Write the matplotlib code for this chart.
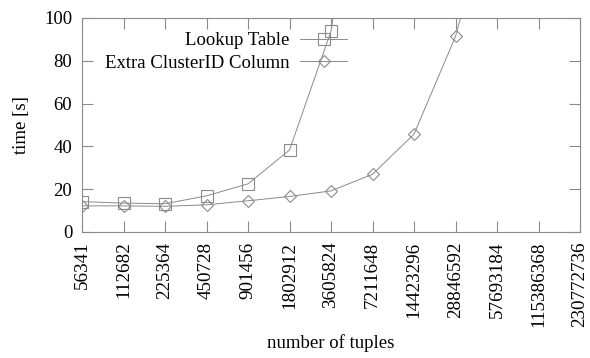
import matplotlib
matplotlib.use("Agg")
import matplotlib.pyplot as plt

tuples = ["56341", "112682", "225364", "450728", "901456", "1802912", "3605824",
          "7211648", "14423296", "28846592", "57693184", "115386368", "230772736"]
lookup_table = [14.2, 13.5, 13.2, 16.9, 22.5, 38.3, 93.8, 220]
extra_cluster = [12.2, 12.2, 12.0, 12.7, 14.6, 16.6, 19.2, 27.0, 45.7, 91.4, 163]

plt.rcParams['font.family'] = ['Liberation Serif', 'DejaVu Serif']
fs = 13.5

fig = plt.figure(figsize=(5.9, 3.58), dpi=100)
ax = fig.add_axes([82/590, 1 - 232/358, (580 - 82)/590, (232 - 18)/358])

gray = '#8a8a8a'
ax.plot(range(len(lookup_table)), lookup_table, color=gray, lw=0.7,
        marker='s', markersize=9, markerfacecolor='none', markeredgecolor=gray,
        markeredgewidth=0.8, label='Lookup Table')
ax.plot(range(len(extra_cluster)), extra_cluster, color=gray, lw=0.7,
        marker='D', markersize=6.5, markerfacecolor='none', markeredgecolor=gray,
        markeredgewidth=0.8, label='Extra ClusterID Column')

ax.set_xlim(0, len(tuples) - 1)
ax.set_ylim(0, 100)
ax.set_xticks(range(len(tuples)))
ax.set_xticklabels(tuples, rotation=90, fontsize=13.8)
ax.set_yticks([0, 20, 40, 60, 80, 100])
ax.set_yticklabels(['0', '20', '40', '60', '80', '100'], fontsize=fs)
ax.tick_params(direction='in', length=8, width=0.8, color=gray, top=True, right=True,
               pad=7)
for s in ax.spines.values():
    s.set_color(gray)
    s.set_linewidth(0.8)

ax.set_ylabel('time [s]', fontsize=fs, labelpad=10)
ax.set_xlabel('number of tuples', fontsize=fs, labelpad=5)

leg = ax.legend(loc='upper right', bbox_to_anchor=(347/590, 1 - 32/358),
                bbox_transform=fig.transFigure, frameon=False, markerfirst=False,
                fontsize=fs, handlelength=2.5, handletextpad=0.55, borderpad=0,
                borderaxespad=0, labelspacing=0.3)

fig.savefig('out.png', dpi=100)
